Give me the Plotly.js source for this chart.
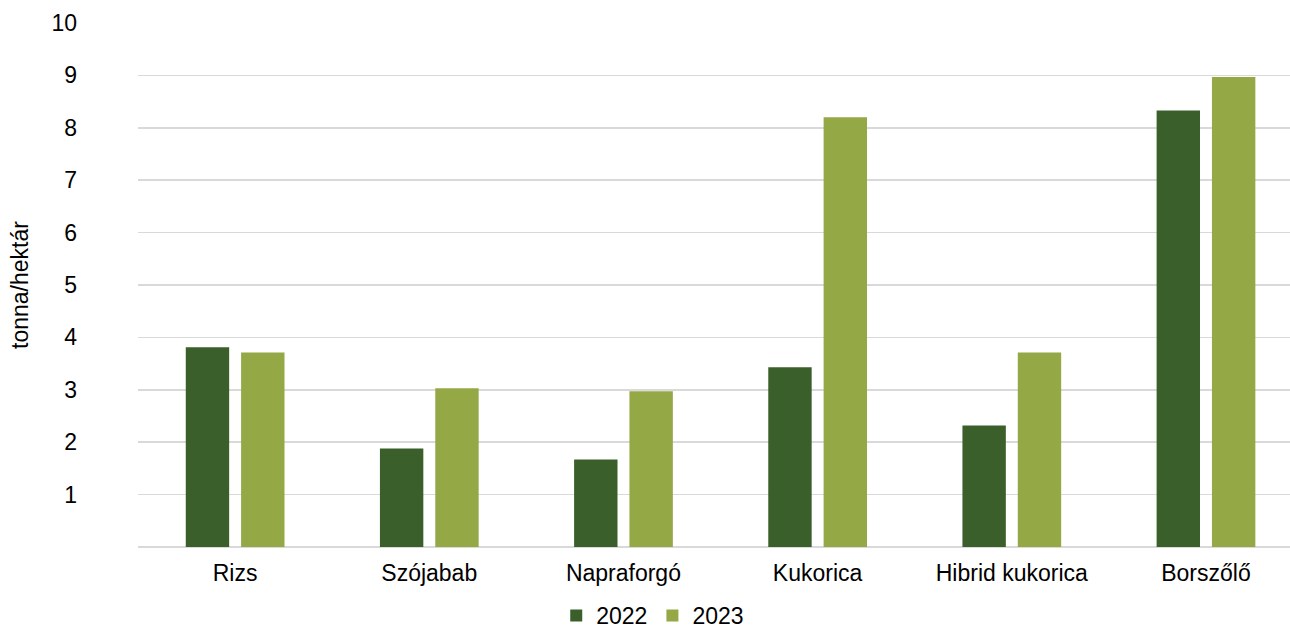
<!DOCTYPE html>
<html><head><meta charset="utf-8">
<script src="https://cdn.plot.ly/plotly-3.0.1.min.js"></script>
<style>html,body{margin:0;padding:0;background:#fff}#chart{width:1290px;height:637px}</style>
</head><body><div id="chart"></div>
<script>
const categories = ["Rizs", "Szójabab", "Napraforgó", "Kukorica", "Hibrid kukorica", "Borszőlő"];
const values2022 = [3.81, 1.88, 1.67, 3.43, 2.32, 8.33];
const values2023 = [3.71, 3.03, 2.97, 8.20, 3.71, 8.97];
const yTicks = [1, 2, 3, 4, 5, 6, 7, 8, 9, 10];
const seriesNames = ["2022", "2023"];

const font = {family: "Liberation Sans, Arial, sans-serif", size: 23, color: "#000"};
const traces = [
  {type: "bar", name: seriesNames[0], x: categories, y: values2022,
   width: 0.2235, offset: -0.254, marker: {color: "#3A5F2A"}, hoverinfo: "x+y"},
  {type: "bar", name: seriesNames[1], x: categories, y: values2023,
   width: 0.2235, offset: 0.031, marker: {color: "#94A845"}, hoverinfo: "x+y"}
];
const layout = {
  width: 1290, height: 637,
  margin: {l: 138, r: 0, t: 23, b: 90, autoexpand: false},
  paper_bgcolor: "#fff", plot_bgcolor: "#fff",
  font: font,
  barmode: "overlay",
  showlegend: true,
  legend: {orientation: "h", x: 0.506, xref: "container", xanchor: "center",
           y: -0.009, yref: "container", yanchor: "bottom",
           font: font, itemwidth: 30, traceorder: "normal"},
  xaxis: {type: "category", range: [-0.5, 5.433], showgrid: false, zeroline: false,
          showline: false, ticks: "", tickfont: font, ticklabelstandoff: 10, fixedrange: true,
          automargin: false},
  yaxis: {range: [0, 10], tickvals: yTicks, ticktext: yTicks.map(String),
          showgrid: true, gridcolor: "#D9D9D9", gridwidth: 1.5,
          zeroline: true, zerolinecolor: "#D9D9D9", zerolinewidth: 1.5,
          showline: false, ticks: "", tickfont: font, ticklabelstandoff: 60,
          title: {text: "tonna/hektár", font: font, standoff: 16}, fixedrange: true,
          automargin: false}
};
Plotly.newPlot("chart", traces, layout, {displayModeBar: false, staticPlot: true});
</script></body></html>
